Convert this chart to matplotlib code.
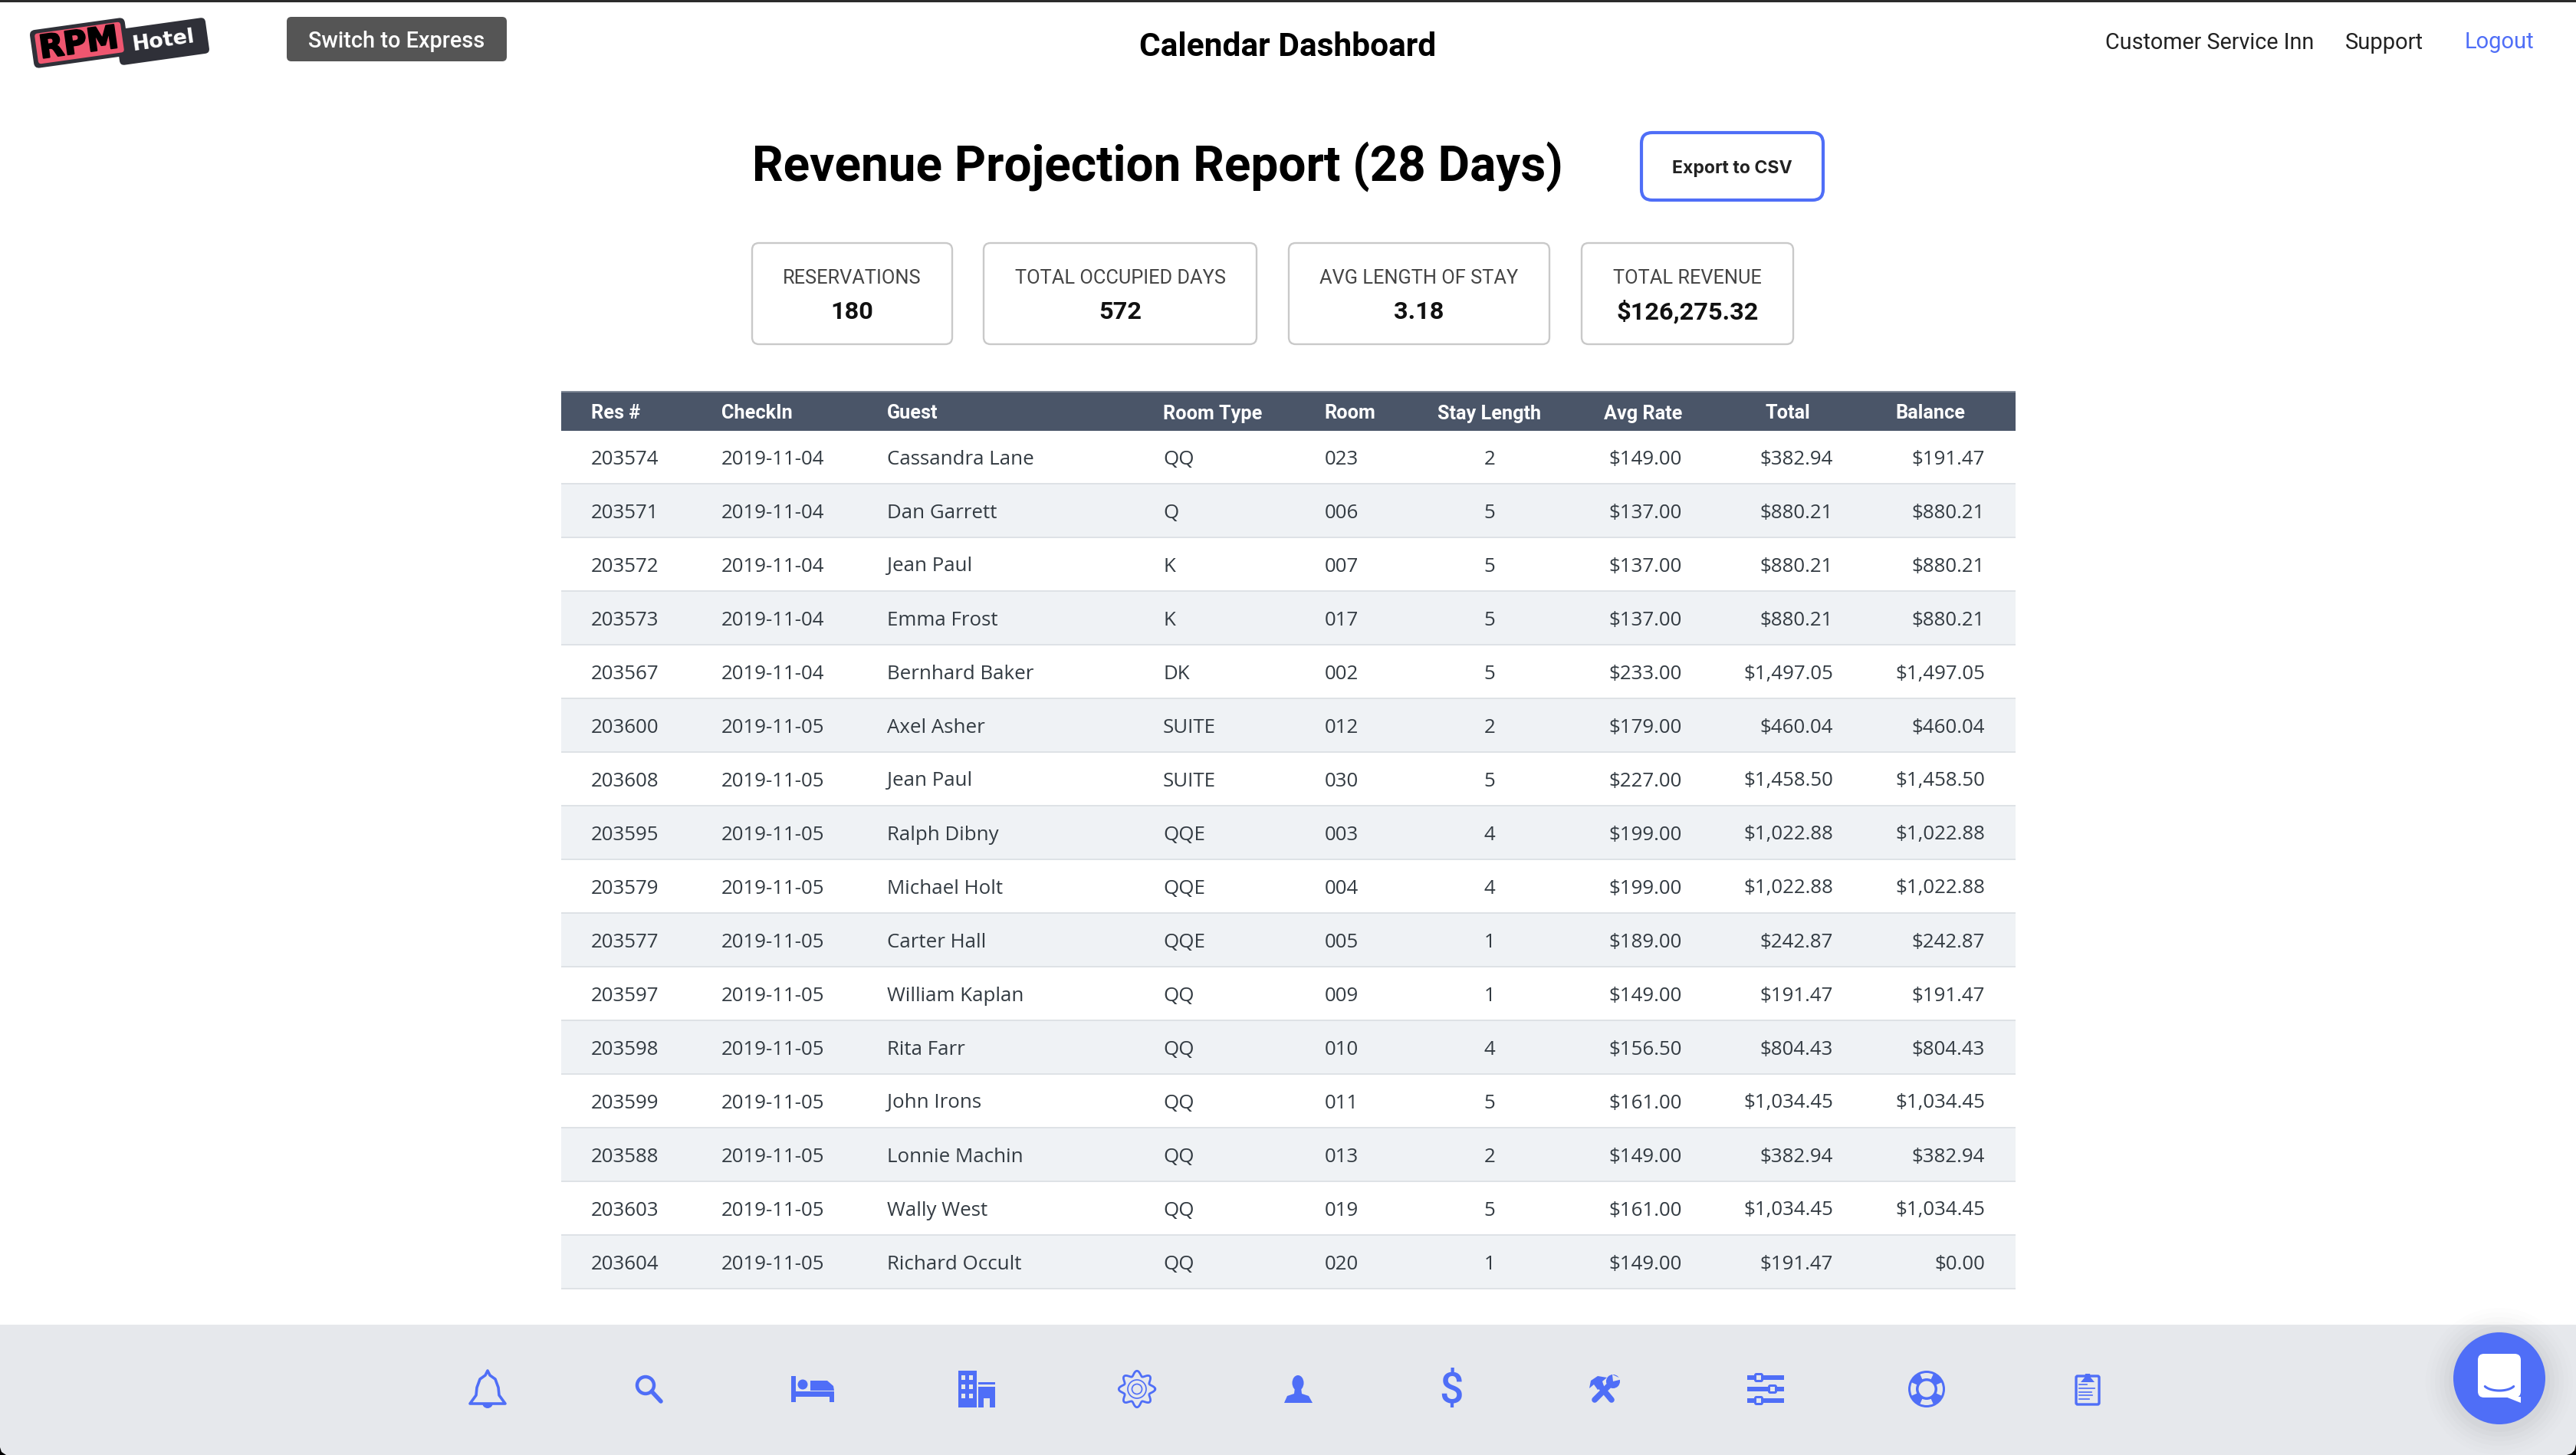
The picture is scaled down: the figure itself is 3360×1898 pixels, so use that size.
import matplotlib
matplotlib.use('Agg')
import matplotlib.pyplot as plt
import matplotlib.patheffects as pe
import numpy as np
from matplotlib.patches import Rectangle, FancyBboxPatch, Circle, Ellipse, Polygon, Wedge
from matplotlib.transforms import Affine2D

columns = ['Res #', 'CheckIn', 'Guest', 'Room Type', 'Room', 'Stay Length', 'Avg Rate', 'Total', 'Balance']
res = ['203574', '203571', '203572', '203573', '203567', '203600', '203608', '203595',
       '203579', '203577', '203597', '203598', '203599', '203588', '203603', '203604']
checkin = ['2019-11-04'] * 5 + ['2019-11-05'] * 11
guest = ['Cassandra Lane', 'Dan Garrett', 'Jean Paul', 'Emma Frost', 'Bernhard Baker', 'Axel Asher',
         'Jean Paul', 'Ralph Dibny', 'Michael Holt', 'Carter Hall', 'William Kaplan', 'Rita Farr',
         'John Irons', 'Lonnie Machin', 'Wally West', 'Richard Occult']
room_type = ['QQ', 'Q', 'K', 'K', 'DK', 'SUITE', 'SUITE', 'QQE', 'QQE', 'QQE', 'QQ', 'QQ', 'QQ', 'QQ', 'QQ', 'QQ']
room = ['023', '006', '007', '017', '002', '012', '030', '003', '004', '005', '009', '010', '011', '013', '019', '020']
stay = [2, 5, 5, 5, 5, 2, 5, 4, 4, 1, 1, 4, 5, 2, 5, 1]
avg_rate = ['$149.00', '$137.00', '$137.00', '$137.00', '$233.00', '$179.00', '$227.00', '$199.00',
            '$199.00', '$189.00', '$149.00', '$156.50', '$161.00', '$149.00', '$161.00', '$149.00']
total = ['$382.94', '$880.21', '$880.21', '$880.21', '$1,497.05', '$460.04', '$1,458.50', '$1,022.88',
         '$1,022.88', '$242.87', '$191.47', '$804.43', '$1,034.45', '$382.94', '$1,034.45', '$191.47']
balance = ['$191.47', '$880.21', '$880.21', '$880.21', '$1,497.05', '$460.04', '$1,458.50', '$1,022.88',
           '$1,022.88', '$242.87', '$191.47', '$804.43', '$1,034.45', '$382.94', '$1,034.45', '$0.00']
card_labels = ['RESERVATIONS', 'TOTAL OCCUPIED DAYS', 'AVG LENGTH OF STAY', 'TOTAL REVENUE']
card_values = ['180', '572', '3.18', '$126,275.32']

BLUE = '#4f6ef7'
DARK = '#333b42'
FOOT = '#e6e8ec'

fig = plt.figure(figsize=(33.6, 18.98), dpi=100, facecolor='white')
ax = fig.add_axes([0, 0, 1, 1])
ax.set_xlim(0, 3360)
ax.set_ylim(1898, 0)
ax.axis('off')


def txt(x, y, s, size, color=DARK, ha='left', weight='normal', family='Roboto', **kw):
    ax.text(x, y, s, fontsize=size, color=color, ha=ha, va='center_baseline', fontweight=weight, family=family, **kw)


def box(x0, y0, x1, y1, r, fc='none', ec='none', lw=0, z=2):
    p = FancyBboxPatch((x0 + r, y0 + r), x1 - x0 - 2 * r, y1 - y0 - 2 * r, boxstyle='round,pad=%f' % r,
                       fc=fc, ec=ec, lw=lw, zorder=z)
    ax.add_patch(p)
    return p


# top bar
ax.add_patch(Rectangle((0, 0), 3360, 2.5, fc='#2b2b2b', zorder=1))

# logo
p = box(153, 30.5, 271, 77.5, 6, fc='#2f3038')
p.set_transform(Affine2D().rotate_deg_around(212, 54, -8) + ax.transData)
p = box(41, 31, 166, 81, 7, fc='#2f3038', z=3)
p.set_transform(Affine2D().rotate_deg_around(103.5, 56, -8) + ax.transData)
p = box(47, 36, 160, 76, 4, fc='#ef5670', z=4)
p.set_transform(Affine2D().rotate_deg_around(103.5, 56, -8) + ax.transData)
t = ax.text(103, 57, 'RPM', fontsize=30, fontweight='bold', family='DejaVu Sans', color='black', rotation=8,
            rotation_mode='anchor', ha='center', va='center', zorder=5)
t.set_path_effects([pe.withStroke(linewidth=1.5, foreground='black')])
ax.text(213, 53, 'Hotel', fontsize=19.5, fontweight='bold', family='DejaVu Sans', color='white', rotation=8,
        rotation_mode='anchor', ha='center', va='center', zorder=5)

# header bits
box(374, 22, 661, 80, 6, fc='#555555')
txt(517, 51, 'Switch to Express', 20.8, color='white', ha='center', weight='medium')
txt(1680, 57, 'Calendar Dashboard', 30.6, color='black', ha='center', weight='bold')
txt(2746, 53, 'Customer Service Inn', 20.7, color='#222222')
txt(3059, 53, 'Support', 21, color='#222222')
txt(3215, 52, 'Logout', 21, color=BLUE)

txt(981, 210, 'Revenue Projection Report (28 Days)', 46, color='black', weight='bold')
box(2141, 173, 2378, 261, 14, fc='white', ec=BLUE, lw=3)
txt(2259, 217, 'Export to CSV', 16.6, color='#222222', ha='center', weight='bold', family='Inter')

# cards
card_x0 = [981, 1283, 1681, 2063]
card_x1 = [1242, 1639, 2021, 2339]
for i in range(4):
    box(card_x0[i], 317, card_x1[i], 449, 9, fc='white', ec='#c9c9c9', lw=1.7)
    xc = (card_x0[i] + card_x1[i]) / 2
    txt(xc, 360, card_labels[i], 18.3, color='#444444', ha='center')
    txt(xc, 404, card_values[i], 23.4, color='#111111', ha='center', weight='bold')

# table
left, right = 732, 2629
head_x = [771, 941, 1157, 1517, 1727, 1943, 2194, 2361, 2563]
head_ha = ['left', 'left', 'left', 'left', 'left', 'center', 'right', 'right', 'right']
ax.add_patch(Rectangle((left, 510), right - left, 52, fc='#4a5568', zorder=2))
ax.add_patch(Rectangle((left, 510), right - left, 2, fc='#7f8896', zorder=3))
for x, c, ha in zip(head_x, columns, head_ha):
    txt(x, 537, c, 18.2, color='white', ha=ha, weight='bold')

row_h = 70
cell_x = [771, 941, 1157, 1517, 1728, 1943, 2194, 2391, 2589]
for i in range(len(res)):
    y0 = 562 + i * row_h
    if i % 2 == 1:
        ax.add_patch(Rectangle((left, y0), right - left, row_h, fc='#eff2f5', zorder=1))
    ax.add_patch(Rectangle((left, y0 + row_h - 2), right - left, 2, fc='#dee2e6', zorder=2))
    vals = [res[i], checkin[i], guest[i], room_type[i], room[i], str(stay[i]), avg_rate[i], total[i], balance[i]]
    for x, v, ha in zip(cell_x, vals, head_ha):
        txt(x, y0 + 34, v, 18.6, color=DARK, ha=ha, family='Open Sans')

# footer
ax.add_patch(Rectangle((0, 1728), 3360, 170, fc=FOOT, zorder=1))
ax.add_patch(Polygon([(3348, 1898), (3360, 1898), (3360, 1884), (3358, 1892), (3354, 1896)], fc='black', zorder=2))
ax.add_patch(Polygon([(0, 1888), (0, 1898), (8, 1898), (2, 1894)], fc='black', zorder=2))

# bell
bell = [(636, 1788), (639, 1794), (646, 1799), (650, 1810), (651, 1820), (659, 1831), (613, 1831), (621, 1820),
        (622, 1810), (626, 1799), (633, 1794)]
ax.add_patch(Polygon(bell, fc='none', ec=BLUE, lw=2.6, joinstyle='round', zorder=3))
ax.add_patch(Wedge((636, 1830), 7, 0, 180, fc=BLUE, zorder=3))

# search
ax.add_patch(Circle((842, 1807), 11, fc='none', ec=BLUE, lw=3.2, zorder=3))
ax.plot([850, 862], [1815, 1828], color=BLUE, lw=4, solid_capstyle='round', zorder=3)

# bed
ax.add_patch(Rectangle((1032, 1795), 6, 34, fc=BLUE, zorder=3))
ax.add_patch(Rectangle((1082, 1815), 6, 14, fc=BLUE, zorder=3))
ax.add_patch(Rectangle((1032, 1815), 56, 7, fc=BLUE, zorder=3))
ax.add_patch(Circle((1047, 1806), 6.5, fc=BLUE, zorder=3))
ax.add_patch(Polygon([(1057, 1801), (1079, 1801), (1087, 1808), (1088, 1814), (1057, 1814)], fc=BLUE, zorder=3))

# building
ax.add_patch(Rectangle((1250, 1788), 24, 48, fc=BLUE, zorder=3))
ax.add_patch(Rectangle((1276, 1803), 22, 3, fc=BLUE, zorder=3))
ax.add_patch(Rectangle((1276, 1809), 22, 27, fc=BLUE, zorder=3))
ax.add_patch(Rectangle((1283, 1824), 8, 12, fc=FOOT, zorder=4))
for wy in [1794, 1806, 1818]:
    for wx in [1254, 1264]:
        ax.add_patch(Rectangle((wx, wy), 5, 6, fc=FOOT, zorder=4))

# gear
th = np.linspace(0, 2 * np.pi, 240)
rr = 20.5 + 3.2 * np.cos(8 * th)
ax.plot(1483 + rr * np.cos(th), 1812 + rr * np.sin(th), color=BLUE, lw=2, zorder=3)
ax.add_patch(Circle((1483, 1812), 12, fc='none', ec=BLUE, lw=1.2, zorder=3))
ax.add_patch(Circle((1483, 1812), 6.5, fc='none', ec=BLUE, lw=1.2, zorder=3))

# person
ax.add_patch(Ellipse((1693, 1804), 15, 20, fc=BLUE, zorder=3))
ax.add_patch(Polygon([(1689, 1810), (1697, 1810), (1698, 1818), (1707, 1821), (1712, 1830), (1675, 1830), (1679, 1821),
                      (1688, 1818)], fc=BLUE, zorder=3))

# dollar
txt(1893, 1809, '$', 40, color=BLUE, ha='center', family='Roboto', weight='medium')

# tools: hammer and wrench
ax.plot([2082, 2102], [1802, 1826], color=BLUE, lw=5.5, solid_capstyle='round', zorder=3)
ax.plot([2080, 2104], [1826, 1802], color=BLUE, lw=5.5, solid_capstyle='round', zorder=3)
ax.add_patch(Polygon([(2073, 1811), (2075, 1801), (2084, 1795), (2096, 1797), (2090, 1802), (2092, 1808), (2084, 1813),
                      (2079, 1806)], fc=BLUE, zorder=3))
ax.add_patch(Circle((2104, 1802), 9, fc=BLUE, zorder=3))
ax.add_patch(Polygon([(2104, 1802), (2103, 1793), (2116, 1799)], fc=FOOT, zorder=4))

# sliders
for ky, kx in zip([1797, 1812, 1827], [2294, 2312, 2294]):
    ax.add_patch(Rectangle((2279, ky - 3), 48, 6, fc=BLUE, zorder=3))
    box(kx - 6, ky - 6, kx + 6, ky + 6, 3, fc=BLUE, z=4)
    ax.add_patch(Rectangle((kx - 3, ky - 3), 6, 6, fc=FOOT, zorder=5))

# lifebuoy
ax.add_patch(Wedge((2513, 1812), 24, 0, 360, width=13.5, fc=BLUE, zorder=3))
for a in [0, 90, 180, 270]:
    ax.add_patch(Wedge((2513, 1812), 21, a - 24, a + 24, width=7, fc=FOOT, zorder=4))

# clipboard
box(2708, 1795, 2738, 1832, 2, fc='none', ec=BLUE, lw=2.4, z=3)
ax.add_patch(Polygon([(2714, 1803), (2719, 1797), (2720, 1792), (2726, 1792), (2727, 1797), (2732, 1803)], fc=BLUE, zorder=4))
for ly, lx1 in zip([1806, 1811, 1815.5, 1820, 1825], [2722, 2732, 2728, 2729, 2725]):
    ax.plot([2712, lx1], [ly, ly], color=BLUE, lw=1.2, zorder=3)

# chat button
for r, a in zip([96, 90, 84, 78, 72, 66], [0.006, 0.008, 0.01, 0.012, 0.014, 0.016]):
    ax.add_patch(Circle((3260, 1802), r, fc='black', alpha=a, lw=0, zorder=2))
ax.add_patch(Circle((3260, 1798), 60, fc=BLUE, zorder=5))
box(3232, 1766, 3288, 1823, 8, fc='white', z=6)
ax.add_patch(Polygon([(3268, 1822), (3288, 1822), (3288, 1830)], fc='white', zorder=6))
th2 = np.linspace(np.pi * 0.15, np.pi * 0.85, 30)
ax.plot(3260 + 21 * np.cos(th2), 1804 + 10 * np.sin(th2), color=BLUE, lw=2.2, solid_capstyle='round', zorder=7)

fig.savefig('out.png', dpi=100, facecolor='white')
